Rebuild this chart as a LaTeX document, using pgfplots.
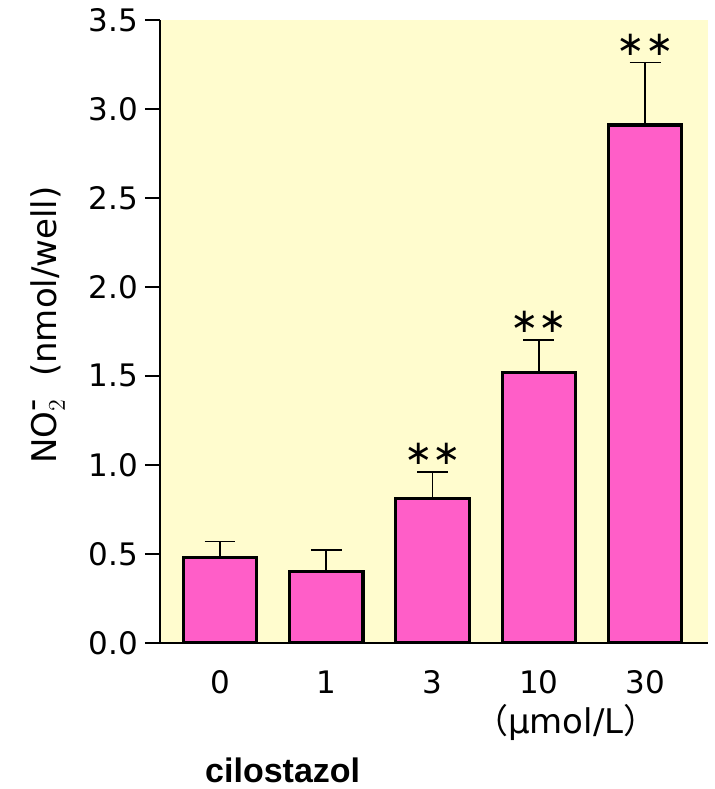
\documentclass[border=0pt]{standalone}
\usepackage{pgfplots}
\pgfplotsset{compat=1.18}
\usepackage{fontspec}
\setmainfont{DejaVu Sans}
\newfontfamily\boldfont{Liberation Sans}
\newfontfamily\cjk{Noto Sans CJK JP}
\definecolor{bgyellow}{RGB}{255,252,206}
\definecolor{barpink}{RGB}{255,94,200}
\begin{document}
\begin{tikzpicture}
\begin{axis}[
  scale only axis, width=274pt, height=311.5pt,
  xmin=-0.565, xmax=4.59, ymin=0, ymax=3.5,
  axis x line=bottom, axis y line=left,
  axis line style={line width=1.3pt, -},
  axis background/.style={fill=bgyellow},
  clip=false,
  ytick={0,0.5,1,1.5,2,2.5,3,3.5},
  yticklabel style={/pgf/number format/.cd, fixed, fixed zerofill, precision=1},
  /pgf/number format/assume math mode=true,
  tick label style={font=\fontsize{15.5}{18}\selectfont},
  ytick style={line width=0.8pt, black},
  tick align=outside,
  major tick length=7.5pt,
  xtick={0,1,2,3,4},
  xticklabels={0,1,3,10,30},
  xtick style={draw=none},
  xticklabel style={yshift=-3pt},
  ylabel={NO$_2^{\raisebox{0pt}{-}}$\ \ (nmol/well)},
  ylabel style={font=\fontsize{17}{20}\selectfont, at={(axis description cs:-0.205,0.51)}, anchor=center},
]
\addplot[ybar, bar width=0.69, fill=barpink, draw=black, line width=1.6pt,
  error bars/.cd, y dir=plus, y explicit,
  error bar style={line width=0.8pt, black},
  error mark options={rotate=90, mark size=7.75pt, line width=0.8pt, black}]
coordinates {
  (0,0.48) +- (0,0.09)
  (1,0.40) +- (0,0.12)
  (2,0.81) +- (0,0.15)
  (3,1.52) +- (0,0.18)
  (4,2.91) +- (0,0.35)
};
\addplot[draw=none, mark=none, point meta=explicit symbolic,
  nodes near coords,
  every node near coord/.append style={anchor=south, inner sep=0pt, yshift=3.5pt, font=\fontsize{17}{17}\selectfont}]
coordinates {
  (2,0.96) [∗∗]
  (3,1.70) [∗∗]
  (4,3.26) [∗∗]
};
\node[font=\fontsize{17}{20}\selectfont] at (axis description cs:0.741,-0.128) {{\cjk （}μmol/L{\cjk ）}};
\node[font=\boldfont\bfseries\fontsize{17}{20}\selectfont] at (axis description cs:0.224,-0.204) {cilostazol};
\end{axis}
\path ([shift={(-80pt,-73pt)}]current axis.south west) rectangle ([shift={(3.5pt,10pt)}]current axis.north east);
\end{tikzpicture}
\end{document}
